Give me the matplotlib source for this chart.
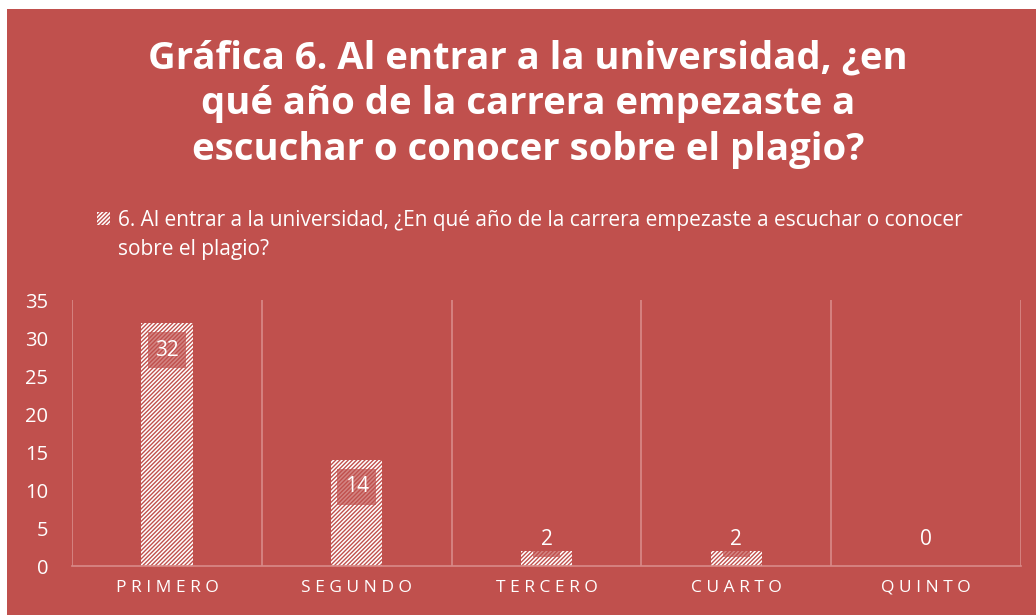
import matplotlib
matplotlib.use('Agg')
import matplotlib.pyplot as plt
from matplotlib.patches import Rectangle

# Data
categories = ['PRIMERO', 'SEGUNDO', 'TERCERO', 'CUARTO', 'QUINTO']
values = [32, 14, 2, 2, 0]
y_ticks = [0, 5, 10, 15, 20, 25, 30, 35]
title = 'Gráfica 6. Al entrar a la universidad, ¿en\nqué año de la carrera empezaste a\nescuchar o conocer sobre el plagio?'
series_name = ('6. Al entrar a la universidad, ¿En qué año de la carrera empezaste a escuchar o conocer\n'
               'sobre el plagio?')

BG = '#C0504D'
GRID = '#D98A88'

plt.rcParams['font.family'] = ['Open Sans', 'DejaVu Sans']
plt.rcParams['hatch.linewidth'] = 1.0

fig = plt.figure(figsize=(10.36, 6.15), dpi=100)
fig.patch.set_facecolor('white')
fig.add_artist(Rectangle((7 / 1036, 0), 1, 1 - 9 / 615, transform=fig.transFigure,
                         facecolor=BG, edgecolor='none', zorder=0))

# Title
fig.text(528 / 1036, 1 - 104 / 615, title, ha='center', va='center', color='white',
         fontsize=27.5, fontweight='bold', linespacing=1.27)

# Legend (hatched marker + text)
fig.add_artist(Rectangle((97 / 1036, 1 - 225 / 615), 13 / 1036, 13 / 615, transform=fig.transFigure,
                         facecolor='white', edgecolor=BG, linewidth=0, hatch='////////'))
fig.text(118 / 1036, 1 - 235 / 615, series_name, ha='left', va='center', color='white',
         fontsize=15, linespacing=1.55)

ax = fig.add_axes([72 / 1036, 1 - 566 / 615, (1021 - 72) / 1036, (566 - 300) / 615])
ax.set_facecolor('none')
x = range(len(categories))
bars = ax.bar(x, values, width=0.27, color='white', edgecolor=BG, linewidth=0, hatch='////////', zorder=2)

ax.set_xlim(-0.5, len(categories) - 0.5)
ax.set_ylim(0, 35)
ax.set_yticks(y_ticks)
ax.set_yticklabels([str(t) for t in y_ticks], color='white', fontsize=14.5)
ax.set_xticks(list(x))
ax.set_xticklabels([' '.join(c) for c in categories], color='white', fontsize=12.5)
ax.tick_params(length=0, pad=10)
ax.tick_params(axis='y', pad=17)

for s in ['top', 'right', 'left']:
    ax.spines[s].set_visible(False)
ax.spines['bottom'].set_color(GRID)
ax.spines['bottom'].set_linewidth(1.2)
for b in [i - 0.5 for i in range(len(categories) + 1)]:
    ax.axvline(b, color=GRID, linewidth=1.2, zorder=1)

# Data labels
for i, v in enumerate(values):
    ypos = max(v - 3.6, 3.5)
    ax.text(i, ypos, str(v), ha='center', va='center', color='white', fontsize=15, zorder=3,
            bbox=dict(boxstyle='square,pad=0.35', facecolor=BG, edgecolor='none', alpha=0.7))

fig.savefig('out.png', dpi=100, facecolor=fig.get_facecolor())
